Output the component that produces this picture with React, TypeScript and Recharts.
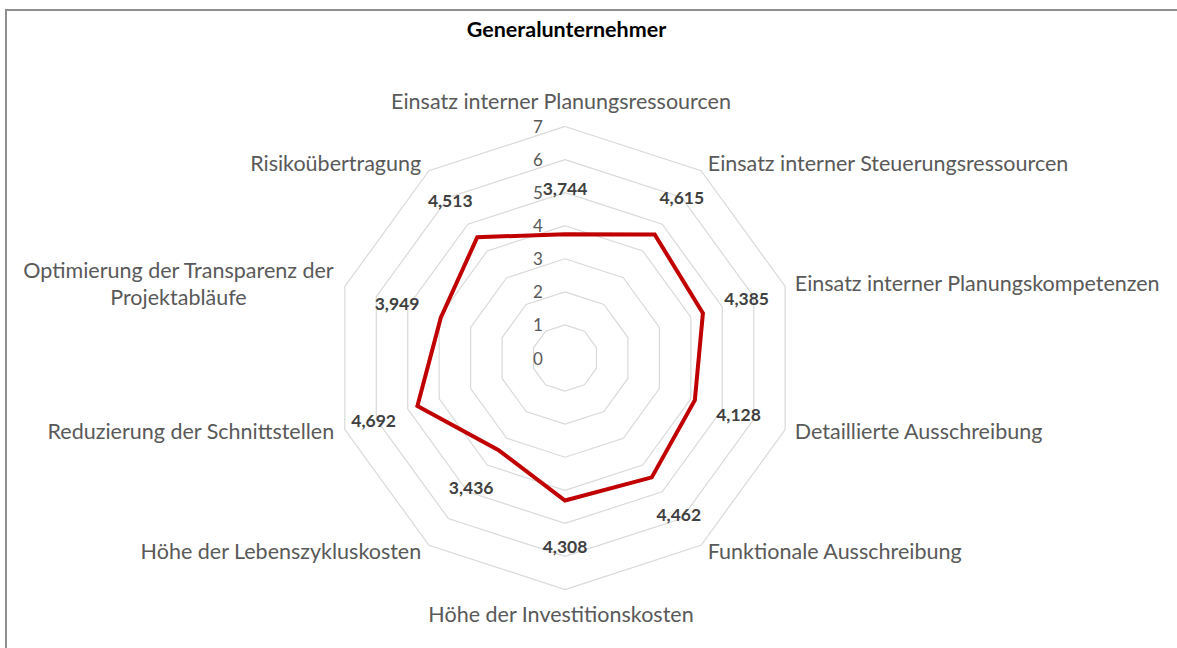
import { RadarChart, Radar, PolarGrid, PolarAngleAxis, PolarRadiusAxis } from 'recharts';

const categories = [
  'Einsatz interner Planungsressourcen',
  'Einsatz interner Steuerungsressourcen',
  'Einsatz interner Planungskompetenzen',
  'Detaillierte Ausschreibung',
  'Funktionale Ausschreibung',
  'Höhe der Investitionskosten',
  'Höhe der Lebenszykluskosten',
  'Reduzierung der Schnittstellen',
  'Optimierung der Transparenz der Projektabläufe',
  'Risikoübertragung',
];

const values = [3.744, 4.615, 4.385, 4.128, 4.462, 4.308, 3.436, 4.692, 3.949, 4.513];

const radiusTicks = [0, 1, 2, 3, 4, 5, 6, 7];

// labels that Excel wraps onto two lines
const wrappedLabels: Record<string, string[]> = {
  'Optimierung der Transparenz der Projektabläufe': ['Optimierung der Transparenz der', 'Projektabläufe'],
};

const data = categories.map((name, i) => ({ name, value: values[i] }));

const FONT = 'Lato, "Open Sans", sans-serif';
const CX = 565;
const CY = 358;
const LABEL_SIZE = 21.5;

function textWidth(text: string, font: string) {
  const ctx = document.createElement('canvas').getContext('2d');
  if (!ctx) return text.length * 10;
  ctx.font = font;
  return ctx.measureText(text).width;
}

const formatValue = (v: number) => v.toFixed(3).replace('.', ',');

function AngleTick(props: any) {
  const { x, y, payload, textAnchor } = props;
  const cx = props.cx ?? CX;
  const cy = props.cy ?? CY;
  const dx = x - cx;
  const dy = y - cy;
  const lines = wrappedLabels[payload.value] ?? [payload.value];
  const common = { fill: '#595959', fontFamily: FONT, fontSize: LABEL_SIZE, dominantBaseline: 'central' as const };

  if (Math.abs(dx) < 1) {
    return (
      <text x={x - 4} y={dy < 0 ? y - 18 : y + 16} textAnchor="middle" {...common}>
        {payload.value}
      </text>
    );
  }
  const sx = dx > 0 ? x + 2 : x - 3;
  if (lines.length > 1) {
    const w = textWidth(lines[0], `${LABEL_SIZE}px ${FONT}`);
    const mid = dx > 0 ? sx + w / 2 : sx - w / 2;
    return (
      <text textAnchor="middle" {...common}>
        {lines.map((l, i) => (
          <tspan key={i} x={mid} y={y - 13.5 + i * 27}>
            {l}
          </tspan>
        ))}
      </text>
    );
  }
  return (
    <text x={sx} y={y - 1} textAnchor={textAnchor} {...common}>
      {payload.value}
    </text>
  );
}

function RadiusTick(props: any) {
  const { x, y, payload } = props;
  return (
    <text x={x - 27} y={y} textAnchor="middle" dominantBaseline="central" fill="#595959" fontFamily={FONT} fontSize={17}>
      {payload.value}
    </text>
  );
}

function ValueLabel(props: any) {
  const { cx, cy, payload, index } = props;
  const ox = payload?.cx ?? CX;
  const oy = payload?.cy ?? CY;
  const dx = cx - ox;
  const dy = cy - oy;
  const len = Math.hypot(dx, dy) || 1;
  const v = payload?.value ?? values[index];
  return (
    <text
      key={`val-${index}`}
      x={cx + (dx / len) * 46}
      y={cy + (dy / len) * 46}
      textAnchor="middle"
      dominantBaseline="central"
      fill="#404040"
      fontFamily={FONT}
      fontWeight="bold"
      fontSize={17.5}
    >
      {formatValue(v)}
    </text>
  );
}

export default function App() {
  return (
    <div style={{ position: 'fixed', left: 0, top: 0, width: 1177, height: 648, overflow: 'hidden', background: '#fff' }}>
      {/* chart frame: only the top and left edges are inside the window */}
      <div style={{ position: 'absolute', left: 5, top: 9, width: 1172, height: 2, background: '#8f8f8f' }} />
      <div style={{ position: 'absolute', left: 5, top: 9, width: 2, height: 639, background: '#8f8f8f' }} />
      <div
        style={{
          position: 'absolute',
          left: 0,
          top: 16,
          width: 1133,
          textAlign: 'center',
          fontFamily: FONT,
          fontWeight: 'bold',
          fontSize: 21.5,
          color: '#000',
        }}
      >
        Generalunternehmer
      </div>
      <div style={{ position: 'absolute', left: 0, top: 0 }}>
        <RadarChart
          width={1177}
          height={648}
          data={data}
          cx={CX}
          cy={CY}
          outerRadius={231.5}
          margin={{ top: 0, right: 0, bottom: 0, left: 0 }}
        >
          <PolarGrid gridType="polygon" radialLines={false} stroke="#d9d9d9" strokeWidth={1.2} />
          <PolarAngleAxis dataKey="name" tick={AngleTick} tickLine={false} axisLine={false} />
          <PolarRadiusAxis
            angle={90}
            domain={[0, 7]}
            ticks={radiusTicks}
            tickCount={8}
            axisLine={false}
            tick={RadiusTick}
          />
          <Radar
            dataKey="value"
            stroke="#c00000"
            strokeWidth={4}
            fill="none"
            fillOpacity={0}
            dot={ValueLabel}
            isAnimationActive={false}
          />
        </RadarChart>
      </div>
    </div>
  );
}
